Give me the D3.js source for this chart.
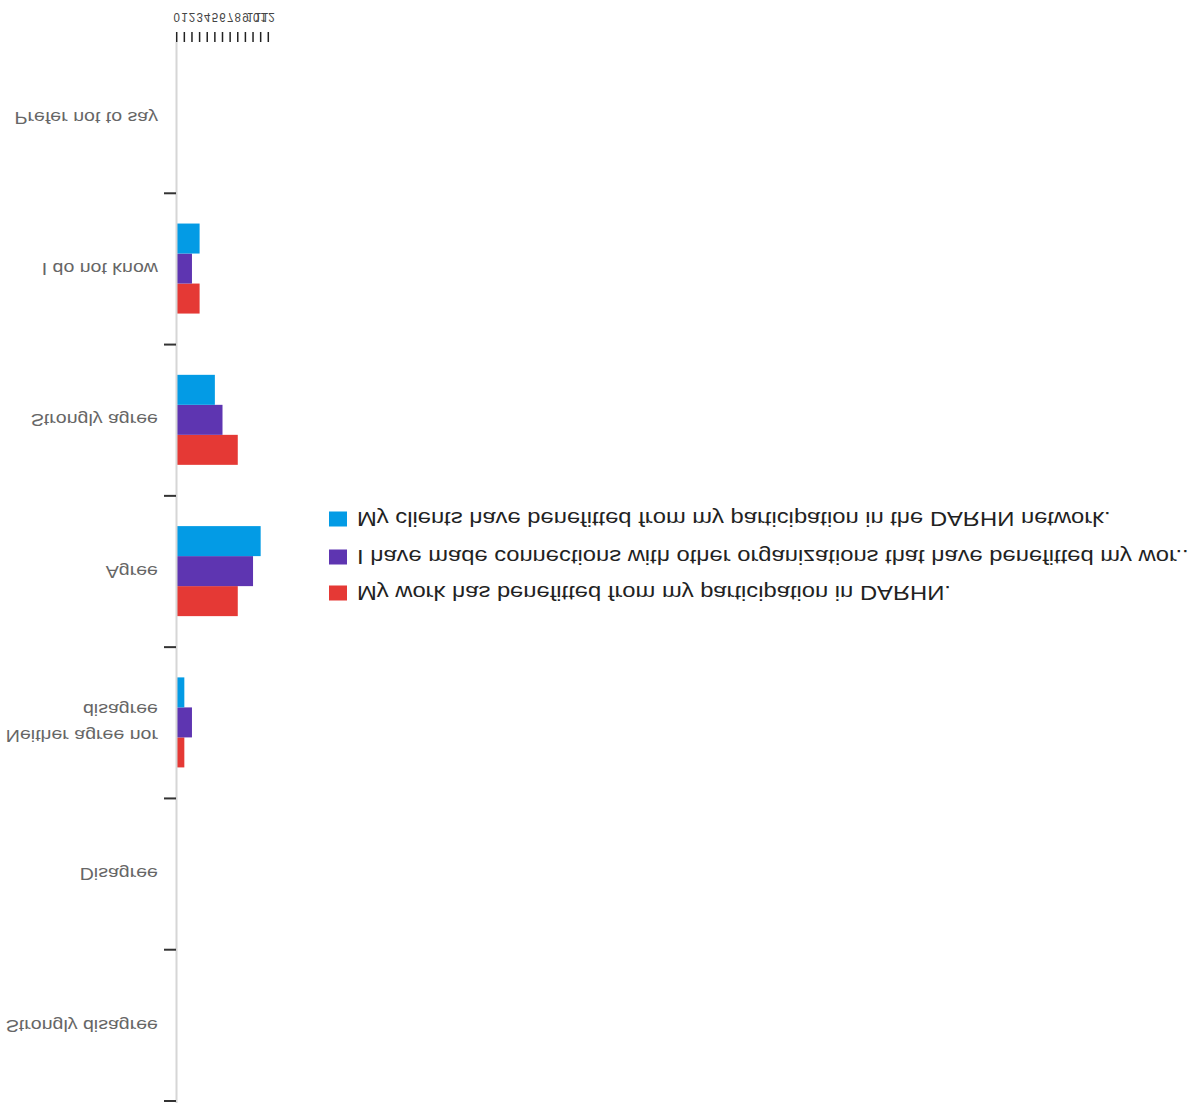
<!DOCTYPE html>
<html>
<head>
<meta charset="utf-8">
<script src="https://cdn.jsdelivr.net/npm/d3@7"></script>
<style>
  html, body { margin: 0; padding: 0; background: #fff; }
  svg { display: block; transform: scaleY(-1); transform-origin: 50% 50%; }
</style>
</head>
<body>
<svg id="chart" width="1190" height="1108"></svg>
<script>
const categories = ["Strongly disagree", "Disagree", "Neither agree nor disagree", "Agree", "Strongly agree", "I do not know", "Prefer not to say"];
const seriesNames = [
  "My work has benefitted from my participation in DARHN.",
  "I have made connections with other organizations that have benefitted my wor...",
  "My clients have benefitted from my participation in the DARHN network."
];
const seriesColors = ["#e53935", "#5e35b1", "#039be5"];
const workValues = [0, 0, 1, 8, 8, 3, 0];
const connectionValues = [0, 0, 2, 10, 6, 2, 0];
const clientValues = [0, 0, 1, 11, 5, 3, 0];
const xTicks = [0, 1, 2, 3, 4, 5, 6, 7, 8, 9, 10, 11, 12];

const seriesValues = [workValues, connectionValues, clientValues];
const SX = 1.2; // horizontal text stretch seen in the reference

const svg = d3.select("#chart");

const x = d3.scaleLinear().domain([0, 12]).range([176.7, 268.3]);
const y0 = d3.scaleBand().domain(categories).range([7, 1066]).padding(0);
const y1 = d3.scaleBand().domain(d3.range(seriesNames.length))
  .range([y0.bandwidth() * 0.205, y0.bandwidth() * 0.8]).padding(0);

// bars
const groups = svg.append("g").selectAll("g").data(categories).join("g")
  .attr("transform", d => `translate(0,${y0(d)})`);
groups.selectAll("rect")
  .data((c, ci) => seriesValues.map((vals, si) => ({ si, v: vals[ci] })))
  .join("rect")
  .attr("x", x(0))
  .attr("y", d => y1(d.si))
  .attr("width", d => x(d.v) - x(0))
  .attr("height", y1.bandwidth())
  .attr("fill", d => seriesColors[d.si]);

// y axis line
svg.append("line")
  .attr("x1", 176.5).attr("x2", 176.5)
  .attr("y1", 5).attr("y2", 1066)
  .attr("stroke", "#d6d6d6").attr("stroke-width", 2);

// y ticks at band starts
svg.append("g").selectAll("line").data(categories).join("line")
  .attr("x1", 164).attr("x2", 176)
  .attr("y1", d => y0(d)).attr("y2", d => y0(d))
  .attr("stroke", "#333").attr("stroke-width", 2);

// y labels
const yl = svg.append("g").selectAll("text").data(categories).join("text")
  .attr("transform", d => `translate(158,${y0(d) + y0.bandwidth() / 2}) scale(${SX},1)`)
  .attr("text-anchor", "end")
  .attr("font-family", "Liberation Sans, Arial, sans-serif")
  .attr("font-size", 16.3)
  .attr("fill", "#666");
yl.each(function(d) {
  const t = d3.select(this);
  if (d === "Neither agree nor disagree") {
    t.append("tspan").attr("x", 0).attr("dy", "-0.45em").text("Neither agree nor");
    t.append("tspan").attr("x", 0).attr("dy", "1.6em").text("disagree");
  } else {
    t.append("tspan").attr("x", 0).attr("dy", "0.35em").text(d);
  }
});

// x ticks
svg.append("g").selectAll("line").data(xTicks).join("line")
  .attr("x1", d => x(d)).attr("x2", d => x(d))
  .attr("y1", 1066).attr("y2", 1076)
  .attr("stroke", "#222").attr("stroke-width", 1.5);

svg.append("g").selectAll("text").data(xTicks).join("text")
  .attr("transform", d => `translate(${x(d)},1095) scale(${SX * 0.8},1)`)
  .attr("text-anchor", "middle")
  .attr("font-family", "Liberation Sans, Arial, sans-serif")
  .attr("font-size", 12)
  .attr("fill", "#444")
  .text(d => d);

// legend
const legendY = [515, 551, 589];
const lg = svg.append("g").selectAll("g").data(seriesNames).join("g")
  .attr("transform", (d, i) => `translate(329,${legendY[i]})`);
lg.append("rect")
  .attr("x", 0).attr("y", -7.5)
  .attr("width", 18).attr("height", 15)
  .attr("fill", (d, i) => seriesColors[i]);
lg.append("text")
  .attr("transform", `translate(28,0) scale(${SX},1)`)
  .attr("dy", "0.35em")
  .attr("font-family", "Liberation Sans, Arial, sans-serif")
  .attr("font-size", 19.8)
  .attr("fill", "#222")
  .text(d => d);
</script>
</body>
</html>
